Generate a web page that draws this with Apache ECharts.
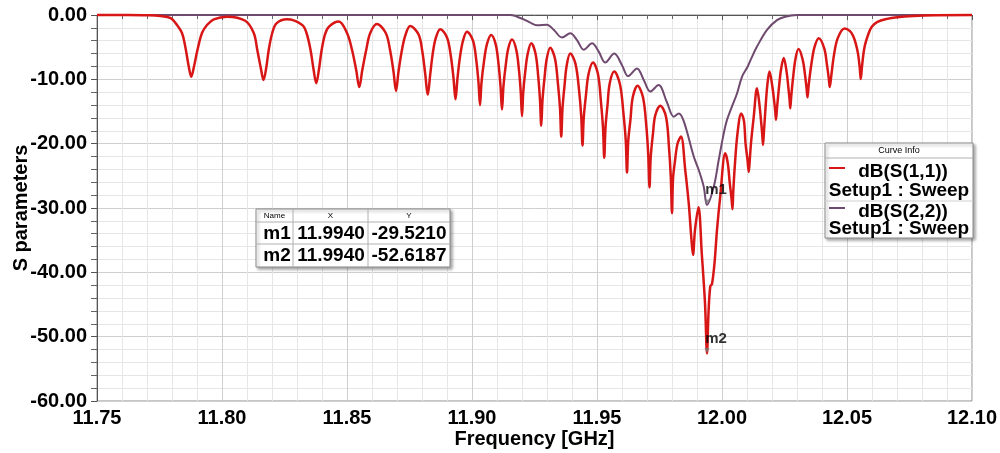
<!DOCTYPE html>
<html><head><meta charset="utf-8">
<script src="https://cdn.jsdelivr.net/npm/echarts@6/dist/echarts.min.js"></script>
<style>html,body{margin:0;padding:0;background:#fff}#c{width:1000px;height:453px}</style>
</head><body><div id="c"></div>
<script>
// dB(S(1,1)) : [frequency GHz, dB]
const s11 = [
[11.7500,0],[11.7600,-0.01],[11.7700,-0.05],[11.7753,-0.16],[11.7795,-0.5],[11.7820,-1.55],[11.7840,-2.8],[11.7853,-4.9],[11.7867,-8.0],[11.7877,-9.6],
[11.7888,-8.0],[11.7902,-5.4],[11.7920,-2.8],[11.7940,-1.55],[11.7967,-0.67],[11.8020,-0.26],
[11.8093,-0.9],[11.8127,-2.8],[11.8141,-5.4],[11.8155,-8.2],[11.8166,-10.1],[11.8177,-8.2],[11.8187,-5.4],[11.8201,-2.8],[11.8218,-1.3],[11.8260,-0.67],
[11.8321,-1.55],[11.8338,-2.8],[11.8354,-5.4],[11.8366,-8.4],[11.8377,-10.6],[11.8388,-8.4],[11.8398,-5.6],[11.8412,-3.0],[11.8428,-1.8],[11.8467,-1.0],
[11.8500,-2.8],[11.8520,-5.4],[11.8537,-8.6],[11.8549,-11.2],[11.8561,-8.6],[11.8577,-5.4],[11.8593,-2.8],[11.8620,-1.4],
[11.8655,-2.8],[11.8672,-5.4],[11.8686,-8.8],[11.8696,-11.8],[11.8706,-8.8],[11.8719,-5.6],[11.8733,-3.2],[11.8753,-1.7],
[11.8786,-3.0],[11.8801,-5.6],[11.8813,-9.2],[11.8823,-12.4],[11.8833,-9.2],[11.8843,-6.0],[11.8855,-3.6],[11.8873,-2.2],
[11.8900,-3.5],[11.8915,-6.3],[11.8926,-9.8],[11.8934,-13.1],[11.8942,-9.8],[11.8952,-6.5],[11.8964,-4.0],[11.8980,-2.6],
[11.9004,-4.0],[11.9017,-7.0],[11.9026,-10.5],[11.9032,-14.0],[11.9038,-10.5],[11.9048,-7.2],[11.9060,-4.5],[11.9077,-3.1],
[11.9095,-4.6],[11.9106,-7.6],[11.9114,-11.0],[11.9120,-14.7],[11.9126,-11.0],[11.9135,-7.8],[11.9145,-5.2],[11.9160,-3.8],
[11.9177,-5.4],[11.9188,-8.6],[11.9195,-12.0],[11.9200,-15.7],[11.9205,-12.0],[11.9213,-8.8],[11.9223,-6.0],[11.9237,-4.4],
[11.9254,-6.0],[11.9265,-9.6],[11.9272,-13.2],[11.9277,-17.2],[11.9282,-13.2],[11.9290,-9.8],[11.9299,-6.8],[11.9313,-5.1],
[11.9332,-6.8],[11.9344,-10.8],[11.9352,-14.5],[11.9357,-18.9],[11.9362,-14.5],[11.9370,-11.0],[11.9379,-7.8],[11.9393,-6.0],
[11.9414,-7.6],[11.9429,-12.0],[11.9437,-15.8],[11.9442,-20.3],[11.9447,-16.0],[11.9456,-12.4],[11.9466,-9.2],[11.9484,-7.4],
[11.9504,-9.2],[11.9516,-13.6],[11.9524,-17.5],[11.9529,-22.2],[11.9534,-17.5],[11.9542,-14.0],[11.9551,-10.6],[11.9569,-8.8],
[11.9592,-10.8],[11.9606,-15.4],[11.9615,-19.5],[11.9620,-24.5],[11.9625,-19.6],[11.9634,-16.2],[11.9643,-12.8],[11.9662,-11.0],
[11.9684,-12.8],[11.9698,-17.6],[11.9705,-21.8],[11.9710,-26.8],[11.9715,-22.0],[11.9724,-18.4],[11.9733,-15.6],[11.9753,-14.1],
[11.9776,-15.8],[11.9788,-20.6],[11.9795,-25.0],[11.9800,-30.8],[11.9804,-25.5],[11.9811,-23.0],[11.9822,-20.0],[11.9836,-18.9],
[11.9853,-24.1],[11.9867,-29.3],[11.9877,-34.5],[11.9884,-37.3],[11.9892,-33.4],[11.9906,-29.9],
[11.9919,-37.0],[11.9932,-44.8],[11.9940,-52.6],[11.9946,-46.3],[11.9953,-42.2],[11.9960,-41.8],[11.9970,-38.6],[11.9980,-33.4],[11.9993,-28.2],[12.0013,-21.5],
[12.0023,-23.0],[12.0031,-26.1],[12.0038,-28.5],[12.0042,-30.2],[12.0045,-27.5],[12.0051,-23.6],[12.0062,-18.4],[12.0077,-15.3],
[12.0088,-16.5],[12.0094,-19.9],[12.0102,-22.5],[12.0107,-24.4],[12.0112,-22.0],[12.0116,-19.9],[12.0127,-15.8],[12.0140,-11.4],
[12.0150,-14.0],[12.0157,-16.8],[12.0161,-18.6],[12.0164,-20.2],[12.0168,-18.0],[12.0174,-14.5],[12.0181,-11.0],[12.0190,-8.8],
[12.0201,-11.0],[12.0209,-13.5],[12.0213,-15.0],[12.0216,-16.3],[12.0220,-14.5],[12.0228,-11.2],[12.0236,-8.5],[12.0247,-6.7],
[12.0259,-9.0],[12.0266,-11.5],[12.0270,-13.0],[12.0273,-14.5],[12.0277,-12.6],[12.0285,-9.5],[12.0294,-6.8],[12.0306,-5.3],
[12.0323,-7.0],[12.0333,-9.6],[12.0338,-11.3],[12.0342,-12.8],[12.0347,-10.8],[12.0358,-7.5],[12.0370,-5.0],[12.0387,-3.6],
[12.0409,-5.2],[12.0420,-7.8],[12.0427,-9.8],[12.0431,-11.2],[12.0437,-9.5],[12.0448,-6.2],[12.0463,-3.6],[12.0490,-2.1],
[12.0512,-2.5],[12.0525,-3.3],[12.0534,-4.3],[12.0544,-6.0],[12.0551,-8.2],[12.0555,-9.95],[12.0560,-8.0],[12.0570,-5.0],[12.0587,-2.8],
[12.0600,-1.8],[12.0620,-1.1],[12.0660,-0.6],[12.0700,-0.35],[12.0766,-0.15],[12.0850,-0.03],[12.1000,0]
];
// dB(S(2,2)) : [frequency GHz, dB]
const s22 = [
[11.7500,0],[11.9153,0],[11.9180,-0.26],[11.9207,-0.67],[11.9233,-1.19],[11.9260,-1.6],[11.9300,-1.5],[11.9327,-2.3],
[11.9360,-3.5],[11.9393,-2.85],[11.9420,-3.9],[11.9447,-5.4],[11.9480,-4.4],[11.9507,-5.7],[11.9533,-7.4],[11.9569,-6.0],
[11.9600,-7.8],[11.9624,-9.5],[11.9660,-8.3],[11.9687,-10.1],[11.9713,-11.9],[11.9746,-10.9],[11.9780,-13.6],[11.9807,-15.8],
[11.9827,-15.3],[11.9847,-16.5],[11.9887,-22.0],[11.9907,-24.1],[11.9927,-26.7],[11.9940,-29.52],[11.9967,-26.7],[11.9987,-22.5],
[12.0007,-18.4],[12.0020,-16.3],[12.0040,-14.2],[12.0060,-12.2],[12.0080,-9.6],[12.0103,-8.0],[12.0120,-6.5],[12.0140,-4.9],
[12.0180,-2.3],[12.0220,-0.8],[12.0253,-0.26],[12.0300,0],[12.1000,0]
];
const markerNames = ['m1', 'm2'];
const markerFreq = [11.9940, 11.9940];
const markerdB = [-29.5210, -52.6187];
const curveNames = ['dB(S(1,1))', 'dB(S(2,2))'];
const sweepName = 'Setup1 : Sweep';
const xRange = { min: 11.75, max: 12.10, interval: 0.05 };
const yRange = { min: -60, max: 0, interval: 10 };

const FONT = '"Liberation Sans", Arial, sans-serif';
const RED = '#d81616';
const PURPLE = '#6f4a6f';

const chart = echarts.init(document.getElementById('c'), null, { renderer: 'canvas' });

const ZZ = 100;
const boxStyle = { fill: '#fff', stroke: '#8c8c8c', lineWidth: 1, shadowBlur: 3, shadowOffsetX: 2, shadowOffsetY: 2, shadowColor: 'rgba(0,0,0,0.35)' };
const lineStyle = { stroke: '#b0b0b0', lineWidth: 1 };
function txt(x, y, s, size, bold, align) {
  return { type: 'text', z: ZZ + 2, x: x, y: y, style: { text: s, fill: '#000', font: (bold ? 'bold ' : '') + size + 'px ' + FONT, align: align || 'center', verticalAlign: 'middle' } };
}
function ln(x1, y1, x2, y2, st) { return { type: 'line', z: ZZ + 1, shape: { x1, y1, x2, y2 }, style: st }; }
function box(x, y, w, h) { return { type: 'rect', z: ZZ, shape: { x: x, y: y, width: w, height: h }, style: boxStyle }; }

const tableEls = [
  box(256, 209, 194, 58),
  ln(256, 222, 450, 222, lineStyle), ln(256, 244, 450, 244, lineStyle),
  ln(293, 209, 293, 267, lineStyle), ln(368, 209, 368, 267, lineStyle),
  txt(274.5, 216, 'Name', 8, false), txt(330.5, 216, 'X', 8, false), txt(409, 216, 'Y', 8, false)
];
markerNames.forEach((n, i) => {
  const yy = 233.5 + i * 22;
  tableEls.push(txt(277, yy, n, 19, true));
  tableEls.push(txt(331, yy, markerFreq[i].toFixed(4), 19, true));
  tableEls.push(txt(409, yy, markerdB[i].toFixed(4), 19, true));
});

const legendEls = [
  box(825, 143, 148, 95),
  ln(825, 158, 973, 158, lineStyle), ln(825, 201, 973, 201, { stroke: '#d0d0d0', lineWidth: 1 }),
  txt(899, 151, 'Curve Info', 9, false),
  ln(829, 168, 845, 168, { stroke: RED, lineWidth: 2 }),
  txt(903, 171.5, curveNames[0], 19, true), txt(899, 190.5, sweepName, 19, true),
  ln(829, 208, 845, 208, { stroke: PURPLE, lineWidth: 2 }),
  txt(903, 211.5, curveNames[1], 19, true), txt(899, 229, sweepName, 19, true)
];

chart.setOption({
  animation: false,
  backgroundColor: '#fff',
  textStyle: { fontFamily: FONT },
  grid: { left: 97, right: 28, top: 15, bottom: 52, show: true, borderColor: '#8c8c8c', borderWidth: 1, containLabel: false, outerBoundsMode: 'none' },
  xAxis: {
    type: 'value', min: xRange.min, max: xRange.max, interval: xRange.interval,
    name: 'Frequency [GHz]', nameLocation: 'middle', nameGap: 28, nameMoveOverlap: false,
    nameTextStyle: { fontSize: 20, fontWeight: 'bold', color: '#000', fontFamily: FONT },
    axisLine: { show: true, lineStyle: { color: '#555', width: 1 } },
    axisTick: { show: true, length: 5, lineStyle: { color: '#555' } },
    minorTick: { show: true, splitNumber: 5, length: 4, lineStyle: { color: '#666' } },
    axisLabel: { fontSize: 20, fontWeight: 'bold', color: '#000', margin: 7, fontFamily: FONT, formatter: v => v.toFixed(2) },
    splitLine: { show: true, lineStyle: { color: '#cfcfcf', width: 1 } },
    minorSplitLine: { show: true, lineStyle: { color: '#e6e6e6', width: 1 } }
  },
  yAxis: {
    type: 'value', min: yRange.min, max: yRange.max, interval: yRange.interval,
    name: 'S parameters', nameLocation: 'middle', nameGap: 66, nameRotate: 90, nameMoveOverlap: false,
    nameTextStyle: { fontSize: 20, fontWeight: 'bold', color: '#000', fontFamily: FONT },
    axisLine: { show: true, lineStyle: { color: '#555', width: 1 } },
    axisTick: { show: true, length: 6, lineStyle: { color: '#555' } },
    minorTick: { show: true, splitNumber: 5, length: 6, lineStyle: { color: '#666' } },
    axisLabel: { fontSize: 20, fontWeight: 'bold', color: '#000', margin: 10, fontFamily: FONT, formatter: v => v.toFixed(2) },
    splitLine: { show: true, lineStyle: { color: '#cfcfcf', width: 1 } },
    minorSplitLine: { show: true, lineStyle: { color: '#e6e6e6', width: 1 } }
  },
  series: [
    { name: curveNames[1], type: 'line', data: s22, showSymbol: false, symbol: 'none', smooth: 0.35,
      lineStyle: { color: PURPLE, width: 2 }, z: 2, clip: false },
    { name: curveNames[0], type: 'line', data: s11, showSymbol: false, symbol: 'none', smooth: 0.35,
      lineStyle: { color: RED, width: 2.5 }, z: 3, clip: false },
    { name: 'markers', type: 'scatter', z: 5,
      data: markerNames.map((n, i) => ({ name: n, value: [markerFreq[i], markerdB[i]] })),
      symbol: 'triangle', symbolRotate: 180, symbolSize: 5, symbolOffset: [0, -3],
      itemStyle: { color: '#777' },
      label: { show: true, position: 'inside', offset: [9, -12], formatter: p => p.name,
        fontSize: 15, fontWeight: 'bold', color: '#000', fontFamily: FONT } }
  ],
  graphic: [
    { type: 'group', children: tableEls },
    { type: 'group', children: legendEls }
  ]
});
</script></body></html>
